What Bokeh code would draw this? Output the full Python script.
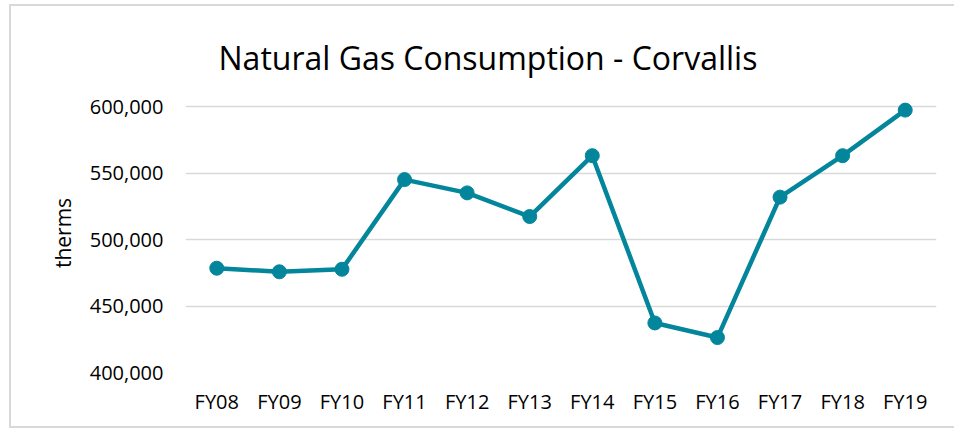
from bokeh.plotting import figure
from bokeh.models import Range1d, NumeralTickFormatter, FixedTicker
from bokeh.embed import file_html
from bokeh.resources import INLINE

years = ["FY08", "FY09", "FY10", "FY11", "FY12", "FY13", "FY14", "FY15", "FY16", "FY17", "FY18", "FY19"]
therms = [478500, 475800, 477700, 545200, 535200, 517400, 563200, 437300, 426300, 532000, 563200, 597500]
y_ticks = [400000, 450000, 500000, 550000, 600000]

COLOR = "#03869b"
FONT = "Open Sans"
BORDER = "2px solid #d9d9d9"

p = figure(x_range=years, y_range=Range1d(400000, 610000), width=945, height=424,
           output_backend="svg", toolbar_location=None,
           min_border_left=174, min_border_right=20, min_border_top=87, min_border_bottom=58,
           styles={"margin-left": "9px", "margin-top": "4px",
                   "border-left": BORDER, "border-top": BORDER, "border-bottom": BORDER,
                   "border-right": "0px none"})

p.title.text = "Natural Gas Consumption - Corvallis"
p.title.align = "left"
p.title.offset = 33
p.title.text_font = FONT
p.title.text_font_size = "32px"
p.title.text_font_style = "normal"
p.title.text_color = "#000000"
p.title.standoff = 29

p.outline_line_color = None
p.border_fill_color = "white"
p.background_fill_color = "white"

p.xgrid.grid_line_color = None
p.ygrid.grid_line_color = "#d9d9d9"
p.ygrid.grid_line_width = 1.5

p.yaxis.ticker = FixedTicker(ticks=y_ticks)
p.yaxis.formatter = NumeralTickFormatter(format="0,0")
p.yaxis.axis_label = "therms"
p.yaxis.axis_label_text_font = FONT
p.yaxis.axis_label_text_font_size = "21px"
p.yaxis.axis_label_text_font_style = "normal"
p.yaxis.axis_label_text_color = "#000000"
p.yaxis.axis_label_standoff = 10

for ax in (p.xaxis, p.yaxis):
    ax.axis_line_color = None
    ax.major_tick_line_color = None
    ax.minor_tick_line_color = None
    ax.major_tick_out = 0
    ax.major_tick_in = 0
    ax.major_label_text_font = FONT
    ax.major_label_text_font_size = "20px"
    ax.major_label_text_color = "#000000"

p.yaxis.major_label_standoff = 22
p.xaxis.major_label_standoff = 15

p.line(years, therms, line_color=COLOR, line_width=4.5)
p.scatter(years, therms, size=14, fill_color=COLOR, line_color=COLOR)

open("out.html", "w").write(file_html(p, INLINE))
